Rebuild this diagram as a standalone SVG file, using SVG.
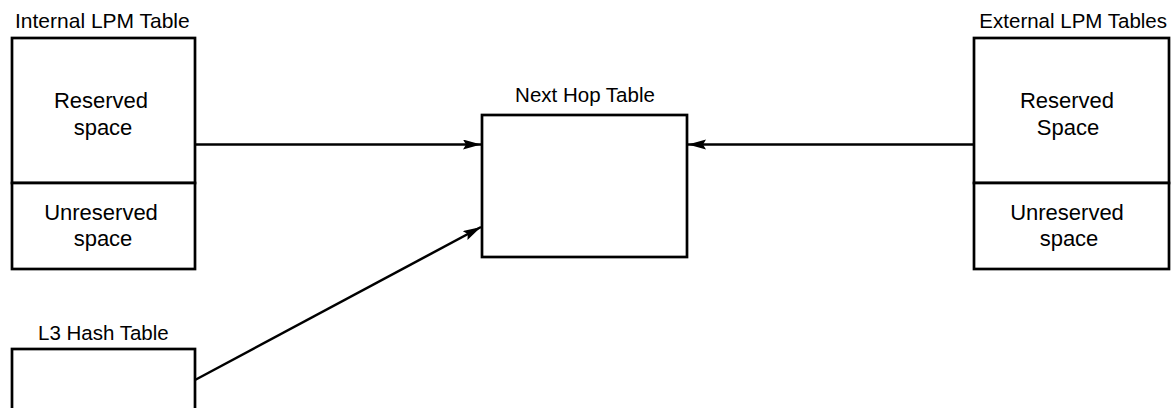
<svg xmlns="http://www.w3.org/2000/svg" width="1171" height="408" viewBox="0 0 1171 408">
<style>
.box{fill:#fff;stroke:#000;stroke-width:2.7}
.t{font-family:"Liberation Sans",Arial,sans-serif;fill:#000}
.title{font-size:20.5px}
.lbl{font-size:22px;text-anchor:middle}
.c{fill:none;stroke:#000;stroke-width:2.5}
</style>
<defs>
<marker id="ah" markerUnits="userSpaceOnUse" markerWidth="20" markerHeight="12" refX="18" refY="5" orient="auto">
<path d="M0,0 L18,5 L0,10 L3,5 z" fill="#000"/>
</marker>
</defs>
<rect width="1171" height="408" fill="#fff"/>
<g id="internal-lpm">
<text class="t title" x="15" y="28" style="font-size:21px">Internal LPM Table</text>
<rect class="box" x="12" y="38" width="183" height="145"/>
<rect class="box" x="12" y="183" width="183" height="86"/>
<text class="t lbl" x="101" y="108">Reserved</text>
<text class="t lbl" x="103" y="135">space</text>
<text class="t lbl" x="101" y="220">Unreserved</text>
<text class="t lbl" x="103" y="246">space</text>
</g>
<g id="next-hop">
<text class="t title" x="585" y="102" text-anchor="middle">Next Hop Table</text>
<rect class="box" x="482" y="115" width="205" height="142"/>
</g>
<g id="external-lpm">
<text class="t title" x="1167" y="28" text-anchor="end">External LPM Tables</text>
<rect class="box" x="974" y="38" width="195" height="145"/>
<rect class="box" x="974" y="183" width="195" height="86"/>
<text class="t lbl" x="1067" y="108">Reserved</text>
<text class="t lbl" x="1068" y="135">Space</text>
<text class="t lbl" x="1067" y="220">Unreserved</text>
<text class="t lbl" x="1069" y="246">space</text>
</g>
<g id="l3-hash">
<text class="t title" x="38" y="340">L3 Hash Table</text>
<rect class="box" x="12" y="349" width="183" height="80"/>
</g>
<g id="connectors">
<line class="c" x1="195" y1="144.5" x2="481" y2="144.5" marker-end="url(#ah)"/>
<line class="c" x1="974" y1="144.5" x2="688" y2="144.5" marker-end="url(#ah)"/>
<line class="c" x1="195" y1="380" x2="481" y2="227" marker-end="url(#ah)"/>
</g>
</svg>
